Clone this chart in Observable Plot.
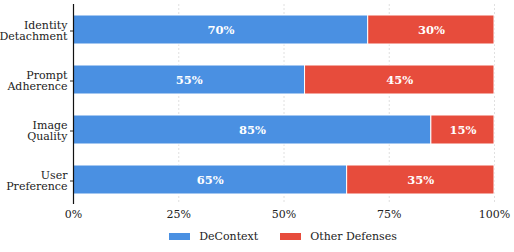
<!DOCTYPE html>
<html><head><meta charset="utf-8">
<script src="https://cdn.jsdelivr.net/npm/d3@7"></script>
<script src="https://cdn.jsdelivr.net/npm/@observablehq/plot@0.6"></script>
<style>
body{margin:0;background:#fff;font-family:'DejaVu Serif',serif;}
#chart svg, #chart svg text{font-family:'DejaVu Serif',serif !important;}
#legend{display:flex;justify-content:center;gap:22px;font-size:11px;color:#222;margin-top:8px;padding-left:52px;font-family:'DejaVu Serif',serif;}
#legend span.sw{display:inline-block;width:21px;height:7px;margin-right:9px;vertical-align:middle;position:relative;top:-1px;}
</style></head>
<body><div id="chart"></div><div id="legend"></div>
<script>
const categories = ["Identity\nDetachment", "Prompt\nAdherence", "Image\nQuality", "User\nPreference"];
const series = ["DeContext", "Other Defenses"];
const decontext = [70, 55, 85, 65];
const other = [30, 45, 15, 35];
const xTicks = [0, 25, 50, 75, 100];
const colors = ["#4A90E2", "#E74C3C"];

const data = [];
categories.forEach((c, i) => {
  data.push({cat: c, series: series[0], value: decontext[i]});
  data.push({cat: c, series: series[1], value: other[i]});
});

const chart = Plot.plot({
  width: 514, height: 222,
  marginLeft: 73, marginRight: 20, marginTop: 4, marginBottom: 18,
  style: {fontSize: "11px", color: "#222"},
  x: {domain: [0, 100], label: null},
  y: {domain: categories, label: null, paddingInner: 0.42, paddingOuter: 0.2},
  color: {domain: series, range: colors},
  marks: [
    Plot.gridX(xTicks.slice(1), {stroke: "#ccc", strokeOpacity: 0.6, strokeDasharray: "2,2"}),
    Plot.barX(data, Plot.stackX({x: "value", y: "cat", z: "series", fill: "series", stroke: "white", strokeWidth: 1, order: series})),
    Plot.text(data, Plot.stackX({x: "value", y: "cat", z: "series", text: d => d.value + "%", fill: "white", fontWeight: "bold", fontSize: 11.5, order: series})),
    Plot.ruleX([0], {stroke: "#111", strokeWidth: 1.2}),
    Plot.ruleY([0], {stroke: "#444", strokeWidth: 1}),
    Plot.axisX({ticks: xTicks, tickFormat: d => d + "%", tickSize: 0, tickPadding: 6, fontSize: 11}),
    Plot.axisY({tickSize: 3, tickPadding: 3, fontSize: 11, lineHeight: 1.05, dy: 1})
  ]
});
document.getElementById("chart").appendChild(chart);

const leg = document.getElementById("legend");
series.forEach((s, i) => {
  const d = document.createElement("div");
  d.innerHTML = `<span class="sw" style="background:${colors[i]}"></span>${s}`;
  leg.appendChild(d);
});
</script></body></html>
